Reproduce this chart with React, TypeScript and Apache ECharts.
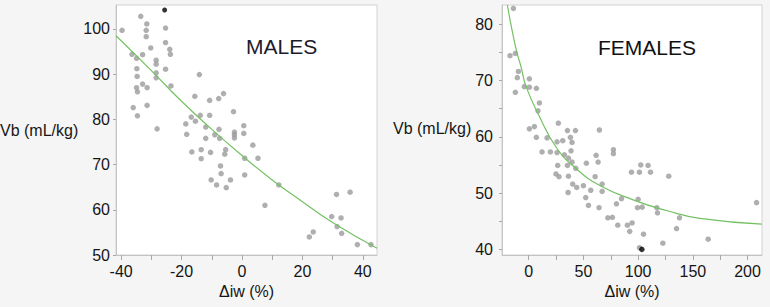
import React, { useEffect, useRef } from "react";
import * as echarts from "echarts";

// Males: blood volume vs. change in ideal weight
const malesPoints: [number, number][] = [
  [-39.7, 99.7], [-33.5, 102.8], [-31.5, 101.1], [-31.7, 99.7], [-31.7, 98.3],
  [-25.3, 100.2], [-25.3, 97.0], [-30.2, 95.8], [-23.9, 95.5], [-23.7, 94.4],
  [-36.4, 94.4], [-34.9, 93.5], [-32.9, 94.3], [-28.4, 93.1], [-28.4, 92.2],
  [-34.8, 91.2], [-25.3, 91.1], [-28.4, 90.3], [-34.7, 89.5], [-28.4, 89.2],
  [-32.9, 87.8], [-23.5, 87.4], [-34.9, 87.0], [-31.4, 87.0], [-34.6, 86.1],
  [-36.0, 82.6], [-31.4, 83.1], [-34.6, 80.8], [-28.1, 77.9], [-14.1, 89.9],
  [-15.6, 85.1], [-6.1, 85.7], [-10.7, 84.2], [-7.7, 84.6], [-13.8, 80.9],
  [-10.7, 80.9], [-16.8, 80.5], [-15.4, 79.6], [-18.6, 79.0], [-2.8, 81.7],
  [-12.0, 78.3], [-7.6, 77.8], [-2.5, 77.2], [0.6, 78.6], [-2.5, 76.6],
  [0.6, 76.9], [-2.5, 75.9], [-18.3, 76.7], [-9.0, 76.6], [-12.0, 75.8],
  [-7.4, 75.8], [3.6, 74.3], [-16.6, 72.8], [-13.5, 73.3], [-10.4, 72.7],
  [-5.4, 73.3], [-5.7, 72.3], [-13.5, 71.3], [0.9, 71.4], [5.3, 71.4],
  [-7.1, 69.7], [-6.9, 68.0], [0.9, 67.7], [-10.2, 66.6], [-3.8, 66.6],
  [-8.4, 65.5], [-5.2, 64.9], [12.2, 65.5], [7.6, 61.0], [31.3, 63.4],
  [35.8, 63.9], [29.7, 58.5], [32.8, 58.2], [31.5, 56.3], [33.0, 54.8],
  [23.6, 55.1], [22.3, 54.0], [38.2, 52.3], [42.7, 52.3],
];
const malesHighlight: [number, number][] = [[-25.6, 104.2]];
const malesFit: [number, number][] = [
  [-41.7, 98.5], [-30, 90.8], [-20, 84.0], [-10, 77.8], [0, 72.0],
  [10, 66.6], [20, 61.8], [30, 57.2], [44.7, 51.5],
];

// Females
const femalesPoints: [number, number][] = [
  [-14.0, 82.8], [-17.1, 74.4], [-12.2, 74.8], [-9.4, 71.6], [-10.4, 70.5],
  [-12.2, 67.9], [-4.0, 68.9], [0.6, 70.3], [0.6, 68.8], [7.0, 68.6],
  [9.8, 66.0], [8.5, 64.6], [0.6, 61.4], [5.2, 61.8], [7.0, 59.9],
  [16.8, 59.8], [12.2, 57.3], [19.8, 57.3], [27.1, 62.4], [25.9, 59.1],
  [31.1, 59.3], [35.4, 61.1], [42.7, 61.1], [64.6, 61.2], [38.1, 59.9],
  [39.6, 59.0], [25.9, 57.2], [32.6, 56.8], [36.3, 56.2], [38.7, 57.5],
  [39.6, 55.5], [26.5, 54.9], [35.4, 54.9], [43.0, 54.4], [24.9, 53.4],
  [27.7, 52.9], [36.3, 53.0], [40.2, 51.6], [43.9, 51.0], [36.0, 50.1],
  [52.7, 55.3], [61.6, 56.7], [63.4, 55.5], [60.7, 52.9], [50.0, 51.3],
  [52.1, 49.2], [56.7, 50.5], [54.6, 47.8], [67.1, 51.6], [67.1, 50.3],
  [64.3, 47.4], [77.4, 57.7], [77.4, 57.0], [72.3, 45.6], [76.5, 45.7],
  [80.2, 48.1], [84.8, 49.0], [81.4, 44.3], [93.9, 53.7], [102.4, 55.0],
  [101.2, 53.7], [109.1, 54.9], [111.3, 53.7], [128.0, 53.0], [100.0, 48.9],
  [99.4, 47.4], [103.7, 47.5], [94.5, 44.7], [90.2, 44.3], [92.3, 43.2],
  [104.9, 42.7], [117.1, 47.4], [117.7, 46.5], [137.8, 45.6], [135.1, 43.7],
  [122.6, 41.1], [101.2, 40.3], [164.0, 41.8], [208.2, 48.3],
];
const femalesHighlight: [number, number][] = [[103.4, 40.0]];
const femalesFit: [number, number][] = [
  [-19.5, 83.4], [-15.9, 79.6], [-11.3, 75.4], [-6.7, 72.2], [-2.4, 68.9],
  [9.8, 63.6], [25.6, 58.0], [43, 54.4], [64.6, 51.4], [95.4, 48.8],
  [125.9, 46.9], [156.4, 45.5], [213, 44.5],
];

// Axis ticks and labels
const malesXTicks = [-40, -30, -20, -10, 0, 10, 20, 30, 40];
const malesXLabels = [-40, -20, 0, 20, 40];
const malesYTicks = [50, 60, 70, 80, 90, 100];
const femalesXTicks = [0, 25, 50, 75, 100, 125, 150, 175, 200];
const femalesXLabels = [0, 50, 100, 150, 200];
const femalesYTicks = [40, 45, 50, 55, 60, 65, 70, 75, 80];
const femalesYLabels = [40, 50, 60, 70, 80];

const FONT = "'Liberation Sans', Arial, Helvetica, sans-serif";
const TEXT = "#151515";
const AXIS = "#c4c4c4";
const DOT = "#9b9b9b";
const FIT = "#74c163";

function xAxis(grid: number, min: number, max: number, ticks: number[], labels: number[]) {
  return {
    type: "value",
    gridIndex: grid,
    min,
    max,
    name: "Δiw (%)",
    nameLocation: "middle",
    nameGap: 28,
    nameTextStyle: { color: TEXT, fontSize: 16, fontFamily: FONT },
    axisLine: { show: true, onZero: false, lineStyle: { color: AXIS } },
    axisTick: { show: true, length: 5, customValues: ticks, lineStyle: { color: "#a8a8a8" } },
    axisLabel: { customValues: labels, color: TEXT, fontSize: 16, fontFamily: FONT, margin: 8 },
    splitLine: { show: false },
  };
}

function yAxis(grid: number, min: number, max: number, ticks: number[], labels: number[], margin: number) {
  return {
    type: "value",
    gridIndex: grid,
    min,
    max,
    axisLine: { show: true, onZero: false, lineStyle: { color: AXIS } },
    axisTick: { show: true, length: 3, customValues: ticks, lineStyle: { color: "#a8a8a8" } },
    axisLabel: { customValues: labels, color: TEXT, fontSize: 16, fontFamily: FONT, margin },
    splitLine: { show: false },
  };
}

export default function App() {
  const ref = useRef<HTMLDivElement>(null);

  useEffect(() => {
    if (!ref.current) return;
    const chart = echarts.init(ref.current, null, { renderer: "svg" });
    chart.setOption({
      animation: false,
      backgroundColor: "#f5f5f5",
      grid: [
        { left: 116, top: 5, width: 261, height: 250, show: true, backgroundColor: "#ffffff", borderColor: "#d2d2d2", borderWidth: 1 },
        { left: 502, top: 5, width: 260, height: 250, show: true, backgroundColor: "#ffffff", borderColor: "#d2d2d2", borderWidth: 1 },
      ],
      xAxis: [
        xAxis(0, -41.7, 44.7, malesXTicks, malesXLabels),
        xAxis(1, -24.4, 213.2, femalesXTicks, femalesXLabels),
      ],
      yAxis: [
        yAxis(0, 50, 105.3, malesYTicks, malesYTicks, 6),
        yAxis(1, 39, 83.4, femalesYTicks, femalesYLabels, 9),
      ],
      graphic: [
        { type: "text", left: 0, top: 122, style: { text: "Vb (mL/kg)", fill: TEXT, font: `16px ${FONT}` } },
        { type: "text", left: 393, top: 120, style: { text: "Vb (mL/kg)", fill: TEXT, font: `16px ${FONT}` } },
        { type: "text", left: 246, top: 36, style: { text: "MALES", fill: "#1b1b2b", font: `21px ${FONT}` } },
        { type: "text", left: 598, top: 37, style: { text: "FEMALES", fill: "#111111", font: `21px ${FONT}` } },
      ],
      series: [
        { type: "scatter", xAxisIndex: 0, yAxisIndex: 0, data: malesPoints, symbolSize: 5.5, itemStyle: { color: DOT } },
        { type: "scatter", xAxisIndex: 0, yAxisIndex: 0, data: malesHighlight, symbolSize: 5, itemStyle: { color: "#000" } },
        { type: "line", xAxisIndex: 0, yAxisIndex: 0, data: malesFit, smooth: true, showSymbol: false, clip: true, lineStyle: { color: FIT, width: 1.2 }, z: 3 },
        { type: "scatter", xAxisIndex: 1, yAxisIndex: 1, data: femalesPoints, symbolSize: 5.5, itemStyle: { color: DOT } },
        { type: "scatter", xAxisIndex: 1, yAxisIndex: 1, data: femalesHighlight, symbolSize: 5.5, itemStyle: { color: "#000" } },
        { type: "line", xAxisIndex: 1, yAxisIndex: 1, data: femalesFit, smooth: true, showSymbol: false, clip: true, lineStyle: { color: FIT, width: 1.2 }, z: 3 },
      ],
    });
    return () => chart.dispose();
  }, []);

  return (
    <div
      ref={ref}
      style={{ position: "absolute", left: 0, top: 0, width: 770, height: 307 }}
    />
  );
}
